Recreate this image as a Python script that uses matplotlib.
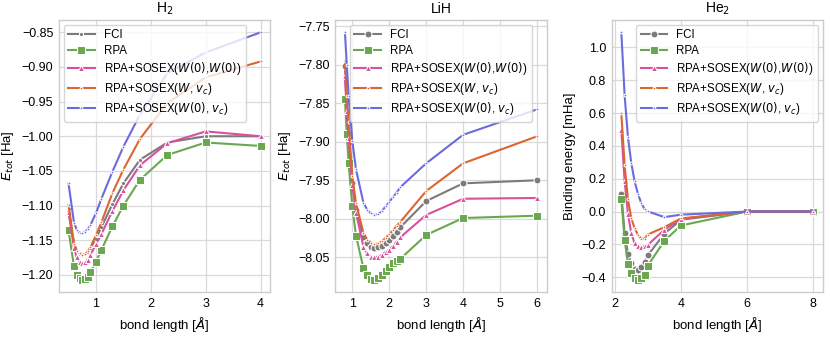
import numpy as np
import matplotlib
matplotlib.use("Agg")
import matplotlib.pyplot as plt

plt.rcParams['font.family'] = ['Liberation Sans', 'DejaVu Sans']
plt.rcParams['mathtext.fontset'] = 'dejavusans'

labels = ["FCI", "RPA", r"RPA+SOSEX($W(0)$,$W(0)$)", r"RPA+SOSEX($W$, $v_c$)", r"RPA+SOSEX($W(0)$, $v_c$)"]
colors = ["#7b7b7b", "#6aa84f", "#d6529f", "#dc6532", "#6b6be0"]

# H2
h2_x = [0.5, 0.6, 0.65, 0.7, 0.75, 0.8, 0.85, 0.9, 1.0, 1.1, 1.3, 1.5, 1.8, 2.3, 3.0, 4.0]
h2_fci = [-1.105, -1.155, -1.165, -1.170, -1.172, -1.170, -1.167, -1.161, -1.148, -1.131, -1.098, -1.068, -1.034, -1.009, -1.000, -1.000]
h2_rpa = [-1.136, -1.188, -1.200, -1.205, -1.207, -1.206, -1.203, -1.196, -1.181, -1.164, -1.130, -1.100, -1.063, -1.027, -1.009, -1.014]
h2_w0w0 = [-1.110, -1.161, -1.175, -1.181, -1.183, -1.182, -1.178, -1.171, -1.156, -1.141, -1.108, -1.078, -1.042, -1.010, -0.993, -1.000]
h2_wvc = [-1.099, -1.155, -1.165, -1.169, -1.171, -1.170, -1.166, -1.160, -1.143, -1.124, -1.082, -1.048, -1.004, -0.952, -0.915, -0.892]
h2_w0vc = [-1.068, -1.125, -1.135, -1.139, -1.140, -1.138, -1.134, -1.128, -1.111, -1.090, -1.051, -1.015, -0.969, -0.909, -0.879, -0.850]

# LiH
lih_x = [0.8, 0.85, 0.9, 1.0, 1.1, 1.3, 1.4, 1.5, 1.6, 1.7, 1.8, 1.9, 2.0, 2.1, 2.2, 2.3, 3.0, 4.0, 6.0]
lih_fci = [-7.802, -7.860, -7.900, -7.953, -7.988, -8.024, -8.032, -8.036, -8.038, -8.037, -8.035, -8.031, -8.027, -8.022, -8.017, -8.011, -7.977, -7.954, -7.950]
lih_rpa = [-7.844, -7.890, -7.928, -7.984, -8.022, -8.064, -8.073, -8.078, -8.079, -8.077, -8.073, -8.068, -8.063, -8.058, -8.055, -8.052, -8.021, -7.999, -7.996]
lih_w0w0 = [-7.815, -7.860, -7.895, -7.956, -7.992, -8.036, -8.045, -8.049, -8.050, -8.049, -8.047, -8.043, -8.040, -8.035, -8.030, -8.024, -7.995, -7.974, -7.973]
lih_wvc = [-7.795, -7.840, -7.875, -7.945, -7.980, -8.018, -8.027, -8.031, -8.033, -8.032, -8.029, -8.025, -8.020, -8.015, -8.009, -8.004, -7.964, -7.928, -7.893]
lih_w0vc = [-7.758, -7.800, -7.840, -7.899, -7.936, -7.979, -7.988, -7.993, -7.995, -7.994, -7.990, -7.984, -7.978, -7.972, -7.966, -7.959, -7.928, -7.891, -7.858]

# He2
he2_x = [2.2, 2.3, 2.4, 2.5, 2.6, 2.7, 2.8, 2.9, 3.0, 3.5, 4.0, 6.0, 8.0]
he2_fci = [0.109, -0.131, -0.258, -0.315, -0.350, -0.356, -0.335, -0.305, -0.266, -0.135, -0.050, 0.0, 0.0]
he2_rpa = [0.077, -0.172, -0.319, -0.375, -0.405, -0.415, -0.408, -0.385, -0.330, -0.178, -0.085, 0.0, 0.0]
he2_w0w0 = [0.494, 0.185, -0.013, -0.131, -0.193, -0.213, -0.217, -0.213, -0.203, -0.111, -0.045, 0.0, 0.0]
he2_wvc = [0.598, 0.282, 0.076, -0.040, -0.101, -0.142, -0.165, -0.166, -0.140, -0.095, -0.042, 0.0, 0.0]
he2_w0vc = [1.092, 0.708, 0.454, 0.297, 0.185, 0.109, 0.052, 0.015, 0.001, -0.034, -0.019, 0.0, 0.0]

fig, axes = plt.subplots(1, 3, figsize=(8.3, 3.37), dpi=100)
fig.subplots_adjust(left=0.071, right=0.9916, top=0.9407, bottom=0.1335, wspace=0.308)

panels = [
    (axes[0], h2_x, [h2_fci, h2_rpa, h2_w0w0, h2_wvc, h2_w0vc], r"H$_2$", r"$E_{tot}$ [Ha]", "upper left", 3),
    (axes[1], lih_x, [lih_fci, lih_rpa, lih_w0w0, lih_wvc, lih_w0vc], "LiH", r"$E_{tot}$ [Ha]", "upper center", 5),
    (axes[2], he2_x, [he2_fci, he2_rpa, he2_w0w0, he2_wvc, he2_w0vc], r"He$_2$", "Binding energy [mHa]", "upper right", 5),
]

for ax, x, series, title, ylabel, loc, fci_ms in panels:
    ax.set_facecolor('white')
    ax.grid(True, color='#d9d9d9', linewidth=0.9)
    ax.set_axisbelow(True)
    for s in ax.spines.values():
        s.set_color('#cccccc')
        s.set_linewidth(1.0)
    markers = ['o', 's', '^', '.', '.']
    sizes = [fci_ms, 6, 5, 4, 4]
    for i, y in enumerate(series):
        ax.plot(x, y, marker=markers[i], ms=sizes[i], color=colors[i], lw=1.5,
                mec='white', mew=0.75, label=labels[i])
    ax.set_title(title, fontsize=10, pad=5)
    ax.set_ylabel(ylabel, fontsize=9.5, labelpad=4)
    ax.set_xlabel(r"bond length [$Å$]", fontsize=9.5, labelpad=4)
    ax.tick_params(labelsize=9, length=0, pad=4)
    ax.legend(loc=loc, fontsize=8.3, frameon=True, edgecolor='#cccccc', framealpha=0.8,
              handlelength=2.3, labelspacing=0.3, borderpad=0.4, borderaxespad=0.4)

axes[0].set_xticks([1, 2, 3, 4])
axes[1].set_xticks([1, 2, 3, 4, 5, 6])
axes[2].set_xticks([2, 4, 6, 8])

fig.savefig("out.png", dpi=100)
